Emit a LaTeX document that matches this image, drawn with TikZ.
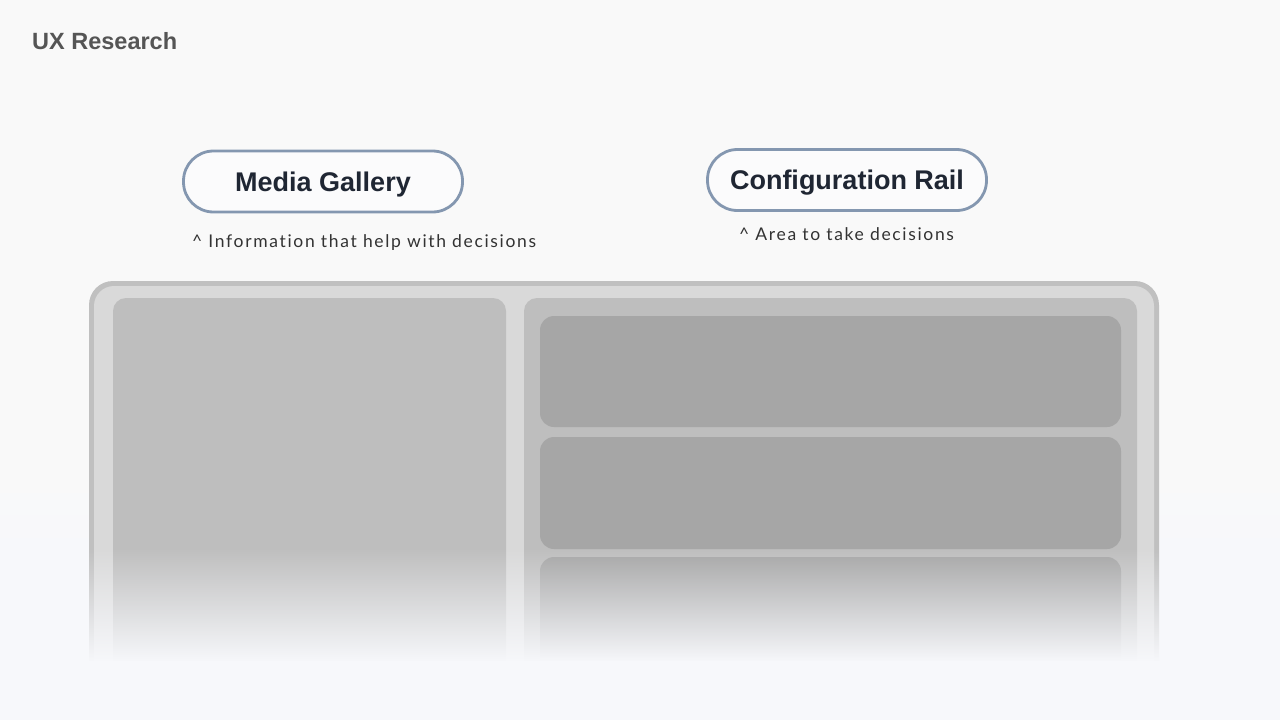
\documentclass[tikz,border=0pt]{standalone}
\usepackage{fontspec}
\setmainfont{Liberation Sans}
\newfontfamily\handfont[LetterSpace=9.5, Ligatures=NoCommon]{Lato}
\usetikzlibrary{fadings}
\definecolor{bgtop}{HTML}{F9F9F9}
\definecolor{bgbot}{HTML}{F7F8FB}
\definecolor{frameedge}{HTML}{C0C0C0}
\definecolor{framefill}{HTML}{D9D9D9}
\definecolor{panelc}{HTML}{BEBEBE}
\definecolor{cardc}{HTML}{A6A6A6}
\definecolor{pillborder}{HTML}{8497B0}
\definecolor{pillfill}{HTML}{FBFBFC}
\definecolor{pilltext}{HTML}{1F2633}
\definecolor{titlec}{HTML}{555555}
\definecolor{notec}{HTML}{333333}
\tikzset{
  pill/.style={draw=pillborder, line width=2.8pt, fill=pillfill, rounded corners=30pt,
    minimum width=279pt, minimum height=61pt, inner sep=0pt, text=pilltext,
    text height=19.4pt, text depth=0pt,
    font=\bfseries\fontsize{27}{32}\selectfont},
  note/.style={anchor=base west, inner sep=0pt, text=notec, font=\handfont\fontsize{17.5}{20}\selectfont},
  titletext/.style={anchor=base west, inner sep=0pt, text=titlec, font=\bfseries\fontsize{23.5}{28}\selectfont},
  panel/.style={fill=panelc, rounded corners=13pt},
  card/.style={fill=cardc, rounded corners=14pt}
}
\begin{document}
\begin{tikzpicture}[x=1pt,y=1pt]
\useasboundingbox (0,0) rectangle (1280,-720);
% background
\fill[bgtop] (0,0) rectangle (1280,-470);
\shade[top color=bgtop, bottom color=bgbot] (0,-470) rectangle (1280,-560);
\fill[bgbot] (0,-560) rectangle (1280,-720);
% title
\node[titletext] (title) at (32,-49) {UX Research};
% pills
\node[pill] (media) at (323,-181.5) {Media Gallery};
\node[pill] (config) at (847,-180) {Configuration Rail};
\node[note] (mnote) at (192,-247) {\^{} Information that help with decisions};
\node[note] (cnote) at (739,-240) {\^{} Area to take decisions};
% device frame
\fill[frameedge, rounded corners=24pt] (89,-281) rectangle (1159,-690);
\fill[framefill, rounded corners=20pt] (94,-286) rectangle (1154,-690);
\fill[panel] (113,-298) rectangle (506,-690);
\fill[panel] (524,-298) rectangle (1137,-690);
\fill[card] (540,-316) rectangle (1121,-427);
\fill[card] (540,-437) rectangle (1121,-549);
\fill[card] (540,-557) rectangle (1121,-690);
% fade out
\fill[bgbot, path fading=north] (80,-548) rectangle (1170,-662);
\fill[bgbot] (80,-661) rectangle (1170,-700);
\end{tikzpicture}
\end{document}
